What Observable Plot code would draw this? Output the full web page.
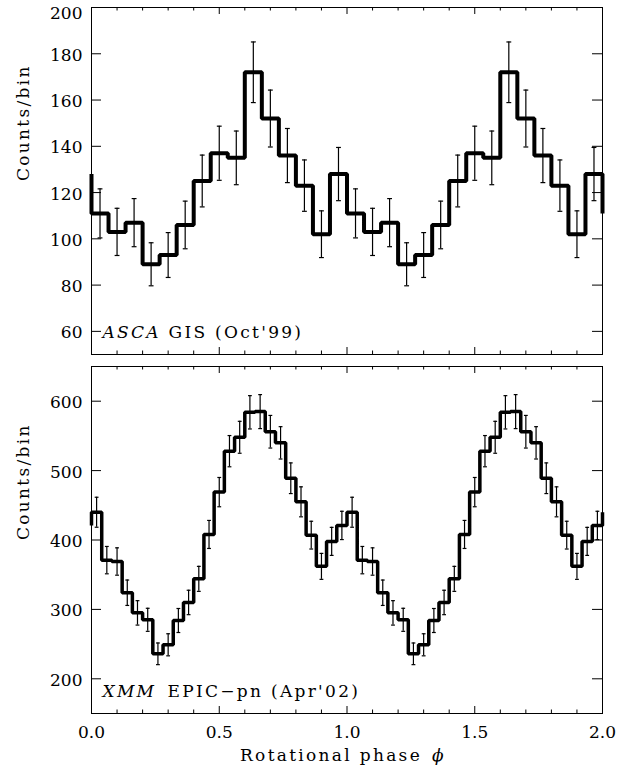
<!DOCTYPE html>
<html><head><meta charset="utf-8">
<script src="https://cdn.jsdelivr.net/npm/d3@7"></script>
<script src="https://cdn.jsdelivr.net/npm/@observablehq/plot@0.6"></script>
<style>
body{margin:0;background:#fff;}
#chart{width:632px;height:772px;position:relative;background:#fff;}
#chart svg{display:block;}
#chart g[aria-label="text"] text{letter-spacing:2.3px;}
</style></head><body><div id="chart"></div>
<script>
// ASCA GIS (Oct'99): 15 phase bins per cycle
const ascaCounts = [111,103,107,89,93,106,125,137,135,172,152,136,123,102,128];
const ascaErrors = [10.6,10.2,10.4,9.3,9.7,10.3,11.2,11.7,11.6,13.1,12.3,11.7,11.1,10.1,11.5];
// XMM EPIC-pn (Apr'02): 25 phase bins per cycle
const xmmCounts = [440,371,369,324,295,285,236,249,284,310,344,408,469,528,548,584,585,556,540,489,455,407,362,398,421];
const xmmErrors = [21.6,19.7,19.7,18.3,17.6,16.6,15.6,15.9,17.3,17.6,18.0,20.2,21.1,22.5,23.0,24.0,24.5,23.5,23.3,22.1,21.6,20.0,18.7,20.2,20.4];
const cycles = [0, 1];
const xMajorTicks = [0, 0.5, 1, 1.5, 2];
const xMinorTicks = [0.1,0.2,0.3,0.4,0.6,0.7,0.8,0.9,1.1,1.2,1.3,1.4,1.6,1.7,1.8,1.9];
const ascaYTicks = [60,80,100,120,140,160,180,200];
const xmmYTicks = [200,300,400,500,600];
const ascaYDomain = [50, 200];
const xmmYDomain = [150, 650];
const yLabel = "Counts/bin";
const xLabel = "Rotational phase";
const xLabelSymbol = "\u03D5";

const W = 632, ML = 91, MR = 30;

function panel(o) {
  const n = o.counts.length;
  const bins = cycles.flatMap(c => o.counts.map((v, i) => ({
    x0: c + i / n, xc: c + (i + 0.5) / n, y: v, lo: v - o.errors[i], hi: v + o.errors[i]
  })));
  const steps = [{x: 0, y: o.counts[n - 1]}, ...bins.map(b => ({x: b.x0, y: b.y})), {x: 2, y: o.counts[0]}];
  const innerW = W - ML - MR, innerH = o.height - o.marginTop - o.marginBottom;
  const yMax = o.yDomain[1];
  const marks = [
    Plot.frame({stroke: "#000", strokeWidth: 1}),
    Plot.tickY(o.yTicks, {y: d => d, insetRight: innerW - 10, stroke: "#000"}),
    Plot.tickY(o.yTicks, {y: d => d, insetLeft: innerW - 10, stroke: "#000"}),
    Plot.tickX(xMajorTicks, {x: d => d, insetBottom: innerH - 7, stroke: "#000"}),
    Plot.tickX(xMajorTicks, {x: d => d, insetTop: innerH - 7, stroke: "#000"}),
    Plot.tickX(xMinorTicks, {x: d => d, insetBottom: innerH - 3.5, stroke: "#000"}),
    Plot.tickX(xMinorTicks, {x: d => d, insetTop: innerH - 3.5, stroke: "#000"}),
    Plot.axisY(o.yTicks.filter(t => t !== yMax), {anchor: "left", tickSize: 0, tickPadding: 9, dy: 1.5, label: null}),
    Plot.axisY(o.yTicks.filter(t => t === yMax), {anchor: "left", tickSize: 0, tickPadding: 9, dy: 6.5, label: null}),
    Plot.ruleX(bins, {x: "xc", y1: "lo", y2: "hi", stroke: "#000", strokeWidth: 1.2}),
    Plot.link(bins, {x1: d => d.xc - o.capHalf, x2: d => d.xc + o.capHalf, y1: "hi", y2: "hi", stroke: "#000", strokeWidth: 1.2}),
    Plot.link(bins, {x1: d => d.xc - o.capHalf, x2: d => d.xc + o.capHalf, y1: "lo", y2: "lo", stroke: "#000", strokeWidth: 1.2}),
    Plot.line(steps, {x: "x", y: "y", curve: "step-after", stroke: "#000", strokeWidth: o.strokeW, strokeLinejoin: "miter", strokeLinecap: "butt"}),
    Plot.text([yLabel], {frameAnchor: "left", rotate: -90, dx: -68, fill: "#000"}),
    Plot.text([o.labelItalic], {frameAnchor: "bottom-left", dx: 11, dy: -17, textAnchor: "start", fontStyle: "italic", fill: "#000"}),
    Plot.text([o.labelRest], {frameAnchor: "bottom-left", dx: o.restDx, dy: -17, textAnchor: "start", fill: "#000"})
  ];
  if (o.showX) {
    marks.push(
      Plot.axisX(xMajorTicks, {anchor: "bottom", tickSize: 0, tickPadding: 12, tickFormat: d3.format(".1f"), label: null}),
      Plot.text([xLabel], {frameAnchor: "bottom", dx: -16, dy: 47, fill: "#000"}),
      Plot.text([xLabelSymbol], {frameAnchor: "bottom", dx: 92, dy: 47, fontStyle: "italic", fill: "#000"})
    );
  }
  return Plot.plot({
    width: W, height: o.height, marginLeft: ML, marginRight: MR,
    marginTop: o.marginTop, marginBottom: o.marginBottom,
    style: {fontFamily: "DejaVu Serif", fontSize: "17px", color: "#000", background: "#fff", overflow: "visible"},
    x: {domain: [0, 2], axis: null},
    y: {domain: o.yDomain, axis: null},
    marks
  });
}

const chart = document.getElementById("chart");
chart.append(panel({
  counts: ascaCounts, errors: ascaErrors, yTicks: ascaYTicks, yDomain: ascaYDomain,
  height: 360, marginTop: 7, marginBottom: 6, strokeW: 4, capHalf: 0.0095,
  labelItalic: "ASCA", labelRest: "GIS (Oct'99)", restDx: 77, showX: false
}));
chart.append(panel({
  counts: xmmCounts, errors: xmmErrors, yTicks: xmmYTicks, yDomain: xmmYDomain,
  height: 412, marginTop: 6, marginBottom: 59, strokeW: 3.5, capHalf: 0.0075,
  labelItalic: "XMM", labelRest: "EPIC\u2212pn (Apr'02)", restDx: 76, showX: true
}));
</script></body></html>
